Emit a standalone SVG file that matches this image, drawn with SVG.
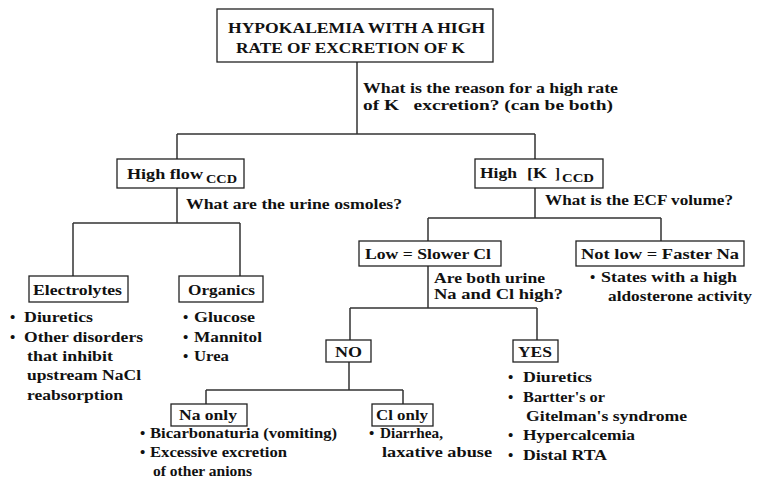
<svg xmlns="http://www.w3.org/2000/svg" width="757" height="486" viewBox="0 0 757 486">
<style>
text{font-weight:bold;font-size:15px;fill:#111}
.sub{font-size:12px}
.box{fill:#fff;stroke:#222;stroke-width:1.3}
.conn{fill:none;stroke:#333;stroke-width:1.5}
</style>
<rect width="757" height="486" fill="#fff"/>
<g id="connectors" class="conn">
<path d="M357,62V134M177,134H535M177,134V159M535,134V159"/>
<path d="M177,188V223M73,223H240M73,223V276M240,223V276"/>
<path d="M535,188V218M428,218H661M428,218V241M661,218V241"/>
<path d="M428,266V308M350,308H537M350,308V340M537,308V340"/>
<path d="M349,362V390M206,390H403M206,390V404M403,390V404"/>
</g>
<g font-family="Liberation Serif, DejaVu Serif, Tinos, Noto Serif, FreeSerif, Times, serif">
<g id="root">
<rect class="box" x="217" y="9" width="276" height="53"/>
<text x="228" y="33" textLength="257" lengthAdjust="spacingAndGlyphs">HYPOKALEMIA WITH A HIGH</text>
<text x="236" y="53" textLength="229" lengthAdjust="spacingAndGlyphs">RATE OF EXCRETION OF K</text>
</g>
<g id="q1">
<text x="363" y="93" textLength="255" lengthAdjust="spacingAndGlyphs">What is the reason for a high rate</text>
<text x="363" y="110" textLength="250" lengthAdjust="spacingAndGlyphs" xml:space="preserve">of K   excretion? (can be both)</text>
</g>
<g id="highflow">
<rect class="box" x="117" y="159" width="127" height="29"/>
<text x="127" y="179" textLength="76" lengthAdjust="spacingAndGlyphs">High flow</text>
<text class="sub" x="206" y="183" textLength="31" lengthAdjust="spacingAndGlyphs">CCD</text>
</g>
<g id="highK">
<rect class="box" x="475" y="159" width="128" height="29"/>
<text x="480" y="178" textLength="37" lengthAdjust="spacingAndGlyphs">High</text>
<text x="527" y="178" textLength="20" lengthAdjust="spacingAndGlyphs">[K</text>
<text x="555" y="178">]</text>
<text class="sub" x="562" y="182" textLength="32" lengthAdjust="spacingAndGlyphs">CCD</text>
</g>
<g id="q2">
<text x="186" y="209" textLength="216" lengthAdjust="spacingAndGlyphs">What are the urine osmoles?</text>
</g>
<g id="q3">
<text x="545" y="205" textLength="188" lengthAdjust="spacingAndGlyphs">What is the ECF volume?</text>
</g>
<g id="low">
<rect class="box" x="359" y="241" width="142" height="25"/>
<text x="365" y="259" textLength="126" lengthAdjust="spacingAndGlyphs">Low = Slower Cl</text>
</g>
<g id="notlow">
<rect class="box" x="576" y="241" width="168" height="25"/>
<text x="581" y="259" textLength="158" lengthAdjust="spacingAndGlyphs">Not low = Faster Na</text>
<text x="590" y="282">•</text>
<text x="601" y="282" textLength="136" lengthAdjust="spacingAndGlyphs">States with a high</text>
<text x="608" y="301" textLength="144" lengthAdjust="spacingAndGlyphs">aldosterone activity</text>
</g>
<g id="q4">
<text x="434" y="283" textLength="111" lengthAdjust="spacingAndGlyphs">Are both urine</text>
<text x="434" y="299" textLength="129" lengthAdjust="spacingAndGlyphs">Na and Cl high?</text>
</g>
<g id="electrolytes">
<rect class="box" x="29" y="276" width="99" height="26"/>
<text x="33" y="295" textLength="89" lengthAdjust="spacingAndGlyphs">Electrolytes</text>
<text x="10" y="322">•</text>
<text x="24" y="322" textLength="69" lengthAdjust="spacingAndGlyphs">Diuretics</text>
<text x="10" y="342">•</text>
<text x="24" y="342" textLength="119" lengthAdjust="spacingAndGlyphs">Other disorders</text>
<text x="27" y="361" textLength="86" lengthAdjust="spacingAndGlyphs">that inhibit</text>
<text x="27" y="380" textLength="114" lengthAdjust="spacingAndGlyphs">upstream NaCl</text>
<text x="27" y="400" textLength="96" lengthAdjust="spacingAndGlyphs">reabsorption</text>
</g>
<g id="organics">
<rect class="box" x="179" y="276" width="84" height="26"/>
<text x="188" y="295" textLength="67" lengthAdjust="spacingAndGlyphs">Organics</text>
<text x="183" y="322">•</text>
<text x="194" y="322" textLength="61" lengthAdjust="spacingAndGlyphs">Glucose</text>
<text x="183" y="342">•</text>
<text x="194" y="342" textLength="68" lengthAdjust="spacingAndGlyphs">Mannitol</text>
<text x="183" y="361">•</text>
<text x="194" y="361" textLength="35" lengthAdjust="spacingAndGlyphs">Urea</text>
</g>
<g id="no">
<rect class="box" x="326" y="340" width="45" height="22"/>
<text x="335" y="357" textLength="27" lengthAdjust="spacingAndGlyphs">NO</text>
</g>
<g id="yes">
<rect class="box" x="513" y="340" width="45" height="22"/>
<text x="518" y="357" textLength="34" lengthAdjust="spacingAndGlyphs">YES</text>
<text x="508" y="382">•</text>
<text x="523" y="382" textLength="69" lengthAdjust="spacingAndGlyphs">Diuretics</text>
<text x="508" y="402">•</text>
<text x="523" y="402" textLength="82" lengthAdjust="spacingAndGlyphs">Bartter's or</text>
<text x="526" y="421" textLength="161" lengthAdjust="spacingAndGlyphs">Gitelman's syndrome</text>
<text x="508" y="440">•</text>
<text x="523" y="440" textLength="112" lengthAdjust="spacingAndGlyphs">Hypercalcemia</text>
<text x="508" y="460">•</text>
<text x="523" y="460" textLength="84" lengthAdjust="spacingAndGlyphs">Distal RTA</text>
</g>
<g id="naonly">
<rect class="box" x="171" y="404" width="76" height="22"/>
<text x="179" y="420" textLength="58" lengthAdjust="spacingAndGlyphs">Na only</text>
<text x="140" y="438">•</text>
<text x="150" y="438" textLength="187" lengthAdjust="spacingAndGlyphs">Bicarbonaturia (vomiting)</text>
<text x="140" y="457">•</text>
<text x="150" y="457" textLength="137" lengthAdjust="spacingAndGlyphs">Excessive excretion</text>
<text x="153" y="476" textLength="99" lengthAdjust="spacingAndGlyphs">of other anions</text>
</g>
<g id="clonly">
<rect class="box" x="372" y="404" width="61" height="22"/>
<text x="376" y="420" textLength="52" lengthAdjust="spacingAndGlyphs">Cl only</text>
<text x="369" y="438">•</text>
<text x="380" y="438" textLength="63" lengthAdjust="spacingAndGlyphs">Diarrhea,</text>
<text x="382" y="457" textLength="110" lengthAdjust="spacingAndGlyphs">laxative abuse</text>
</g>
</g>
</svg>
